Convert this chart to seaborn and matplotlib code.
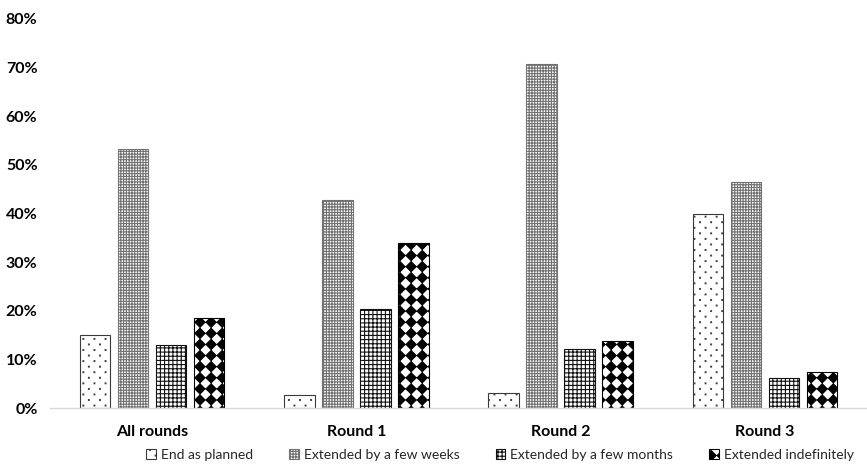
import numpy as np
import pandas as pd
import matplotlib
matplotlib.use("Agg")
import matplotlib.pyplot as plt
import matplotlib.hatch as mhatch
from matplotlib.path import Path
from matplotlib.ticker import FuncFormatter
import seaborn as sns

# ---- data -------------------------------------------------------------
rounds = ["All rounds", "Round 1", "Round 2", "Round 3"]
outcomes = ["End as planned", "Extended by a few weeks",
            "Extended by a few months", "Extended indefinitely"]
end_as_planned = [0.150, 0.027, 0.031, 0.398]
few_weeks = [0.532, 0.427, 0.708, 0.465]
few_months = [0.129, 0.203, 0.121, 0.061]
indefinitely = [0.186, 0.340, 0.137, 0.074]
ytick_values = [0.0, 0.1, 0.2, 0.3, 0.4, 0.5, 0.6, 0.7, 0.8]

df = pd.DataFrame({
    "round": rounds * 4,
    "outcome": np.repeat(outcomes, len(rounds)),
    "share": end_as_planned + few_weeks + few_months + indefinitely,
})


# ---- custom fill patterns ---------------------------------------------
class DiamondHatch(mhatch.HatchPatternBase):
    """'O': square grid of solid diamonds (a checkerboard turned 45 deg)."""

    def __init__(self, hatch, density):
        self.num_rows = int(hatch.count("O") * density * 1.5)
        self.num_vertices = (self.num_rows + 1) ** 2 * 5 if self.num_rows else 0

    def set_vertices_and_codes(self, vertices, codes):
        n = self.num_rows
        s = 1.0 / n
        h = 0.46 * s
        shape = np.array([[0, -h], [h, 0], [0, h], [-h, 0], [0, -h]])
        shape_codes = [Path.MOVETO, Path.LINETO, Path.LINETO,
                       Path.LINETO, Path.CLOSEPOLY]
        k = 0
        for r in range(n + 1):
            for c in range(n + 1):
                vertices[k:k + 5] = shape + [c * s, r * s]
                codes[k:k + 5] = shape_codes
                k += 5


class SparseDots(mhatch.HatchPatternBase):
    """'o': tiny dots on a staggered lattice, rows at half the column pitch."""

    def __init__(self, hatch, density):
        n = int(hatch.count("o") * density * 1.5)
        self.n = n
        self.num_vertices = ((n + 1) ** 2 + n * n) * 5 if n else 0

    def set_vertices_and_codes(self, vertices, codes):
        n = self.n
        s = 1.0 / n
        r = 0.004
        shape = np.array([[-r, -r], [r, -r], [r, r], [-r, r], [-r, -r]])
        shape_codes = [Path.MOVETO, Path.LINETO, Path.LINETO,
                       Path.LINETO, Path.CLOSEPOLY]
        k = 0
        for row in range(2 * n + 1):
            y = row * s / 2
            xs = np.linspace(0, 1, n + 1) if row % 2 == 0 else \
                np.linspace(s / 2, 1 - s / 2, n)
            for x in xs:
                vertices[k:k + 5] = shape + [x, y]
                codes[k:k + 5] = shape_codes
                k += 5


_types = mhatch._hatch_types
_types[_types.index(mhatch.LargeCircles)] = DiamondHatch
_types[_types.index(mhatch.SmallCircles)] = SparseDots

# ---- style ------------------------------------------------------------
sns.set_theme(style="white")
plt.rcParams["font.family"] = ["Lato", "DejaVu Sans"]
plt.rcParams["hatch.linewidth"] = 0.8

fig = plt.figure(figsize=(8.67, 4.70), dpi=100)
ax = fig.add_axes([50 / 867, 1 - 408 / 470, 1 - 50 / 867, (408 - 19) / 470])

sns.barplot(data=df, x="round", y="share", hue="outcome", order=rounds,
            hue_order=outcomes, width=0.745, gap=0.2, errorbar=None,
            palette=["white"] * 4, linewidth=0.8, legend=False, ax=ax)

styles = [
    dict(hatch="o", edgecolor="#3a3a3a"),
    dict(hatch="++++++", edgecolor="#727272"),
    dict(hatch="++++", edgecolor="#111111"),
    dict(hatch="O", edgecolor="#000000"),
]
for container, st in zip(ax.containers, styles):
    for bar in container:
        bar.set_facecolor("white")
        bar.set_hatch(st["hatch"])
        bar.set_edgecolor(st["edgecolor"])

ax.set_xlim(-0.5, 3.5)
ax.set_ylim(0, 0.8)
ax.set_yticks(ytick_values)
ax.yaxis.set_major_formatter(FuncFormatter(lambda v, _: f"{v:.0%}"))
ax.set_xlabel("")
ax.set_ylabel("")
for side in ("left", "top", "right"):
    ax.spines[side].set_visible(False)
ax.spines["bottom"].set_color("#d9d9d9")
ax.spines["bottom"].set_linewidth(1.0)
ax.tick_params(axis="y", length=0, pad=9, labelsize=11.5)
ax.tick_params(axis="x", length=0, pad=12, labelsize=11.5)
for lbl in ax.get_yticklabels() + ax.get_xticklabels():
    lbl.set_fontweight("bold")
    lbl.set_color("#000000")

handles = [c.patches[0] for c in ax.containers]
fig.legend(handles, outcomes, loc="center",
           bbox_to_anchor=(500 / 867, 1 - 455 / 470), ncol=4, frameon=False,
           fontsize=10, handlelength=0.7, handleheight=0.7,
           handletextpad=0.35, columnspacing=2.6, borderaxespad=0,
           borderpad=0)

fig.savefig("out.png", dpi=100)
